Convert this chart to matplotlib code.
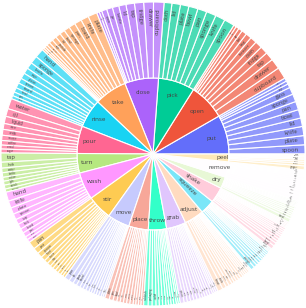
import colorsys

import matplotlib.pyplot as plt
import matplotlib.colors as mcolors
import numpy as np

plt.rcParams["font.family"] = ["Open Sans", "DejaVu Sans"]

# verbs (inner ring) and the objects used with each (outer ring)
verbs = ["put", "open", "pick", "close", "take", "rinse", "pour", "turn", "wash", "stir",
         "move", "place", "throw", "grab", "adjust", "squeeze", "shake", "dry", "remove", "peel"]

put_objs = ["spoon", "plate", "knife", "lid", "bowl", "pan", "sponge", "glass", "cup", "jar", "tray"]
put_vals = [14, 14, 14, 13, 13, 13, 12, 11, 6, 5, 5]
open_objs = ["cupboard", "drawer", "tap", "fridge", "oven", "freezer", "bag", "bin", "jar", "lid", "box"]
open_vals = [18, 16, 13, 12, 11, 10, 9, 8, 6, 5, 4]
pick_objs = ["spoon", "knife", "sponge", "pan", "bowl", "plate", "lid", "cloth"]
pick_vals = [16, 15, 15, 14, 14, 13, 13, 12]
close_objs = ["cupboard", "drawer", "fridge", "tap", "lid", "bottle", "jar", "oven", "bin", "box"]
close_vals = [16, 15, 14, 13, 11, 10, 9, 8, 4, 4]
take_objs = ["plate", "knife", "board", "pan", "sponge", "bowl", "lid", "spatula", "cup", "spoon", "fork", "jar", "oil"]
take_vals = [14, 12, 11, 10, 9, 8, 8, 7, 6, 5, 4, 3, 3]
rinse_objs = ["hand", "sponge", "knife", "cup", "plate", "spoon", "board", "bowl", "pan", "glass"]
rinse_vals = [14, 12, 10, 9, 9, 8, 8, 7, 6, 5]
pour_objs = ["water", "oil", "liquid", "rice", "milk", "sauce", "coffee", "cereal", "sugar"]
pour_vals = [16, 12, 11, 9, 9, 8, 7, 6, 6]
turn_objs = ["tap", "hob", "water", "kettle", "cooker", "light", "switch", "machine"]
turn_vals = [14, 9, 7, 7, 6, 6, 6, 5]
wash_objs = ["hand", "knife", "plate", "spoon", "cup", "fork", "board", "pan", "bowl", "glass"]
wash_vals = [14, 11, 10, 9, 8, 8, 7, 7, 5, 5]
stir_objs = ["pan", "pot", "spoon", "food", "sauce", "mix", "soup", "egg", "rice", "pasta", "oil", "milk"]
stir_vals = [12, 9, 8, 7, 6, 6, 5, 5, 5, 5, 4, 4]
move_objs = ["pan", "lid", "plate", "board", "bowl", "pot", "cup", "knife", "spoon", "tray", "box", "jar", "bag", "glass"]
move_vals = [8, 7, 6, 6, 5, 5, 5, 4, 4, 4, 4, 4, 3, 3]
place_objs = ["plate", "pan", "bowl", "lid", "cup", "knife", "spoon", "board", "pot", "tray", "glass", "jar"]
place_vals = [7, 6, 6, 5, 5, 5, 5, 5, 4, 4, 4, 4]
throw_objs = ["rubbish", "packaging", "paper", "bag", "peel", "shell", "food", "towel", "box", "wrapper", "can", "tissue"]
throw_vals = [7, 6, 6, 5, 5, 5, 4, 4, 4, 4, 3, 3]
grab_objs = ["spoon", "bowl", "knife", "plate", "sponge", "towel", "lid", "cup", "pan", "bag", "jar", "bottle", "fork", "board"]
grab_vals = [6, 5, 5, 5, 5, 5, 4, 4, 4, 4, 4, 3, 3, 3]
adjust_objs = ["heat", "knob", "flame", "hob", "temperature", "position", "oven", "lid", "tap", "setting", "dial",
               "pan", "timer", "volume", "switch"]
adjust_vals = [8, 6, 5, 5, 4, 4, 4, 4, 4, 3, 3, 3, 3, 2, 2]
squeeze_objs = ["sponge", "lemon", "bottle", "soap", "cloth", "tube", "liquid", "lime", "orange", "sauce", "paste",
                "juice", "ketchup"]
squeeze_vals = [6, 5, 4, 4, 4, 3, 3, 3, 3, 3, 2, 2, 2]
shake_objs = ["hand", "bottle", "pan", "salt", "water", "pepper", "jar", "spice", "container", "sieve", "oil", "bag",
              "box", "lid", "cup"]
shake_vals = [6, 5, 4, 4, 4, 3, 3, 3, 3, 3, 2, 2, 2, 2, 2]
dry_objs = ["hand", "plate", "towel", "knife", "bowl", "cup", "spoon", "pan", "board", "glass", "lid", "fork", "tray"]
dry_vals = [6, 4, 3, 3, 3, 3, 3, 2, 2, 2, 2, 2, 1]
remove_objs = ["lid", "peel", "skin", "wrapper", "seed", "cap", "tray", "shell", "film", "bag", "label", "stalk",
               "foil", "core", "stem", "seal"]
remove_vals = [5, 5, 5, 3, 3, 3, 3, 3, 3, 3, 2, 2, 2, 2, 2, 1]
peel_objs = ["ginger", "potato", "onion", "carrot", "garlic", "banana", "orange", "apple"]
peel_vals = [6, 4, 3, 3, 2, 2, 2, 2]

objects = [put_objs, open_objs, pick_objs, close_objs, take_objs, rinse_objs, pour_objs, turn_objs, wash_objs,
           stir_objs, move_objs, place_objs, throw_objs, grab_objs, adjust_objs, squeeze_objs, shake_objs,
           dry_objs, remove_objs, peel_objs]
counts = [put_vals, open_vals, pick_vals, close_vals, take_vals, rinse_vals, pour_vals, turn_vals, wash_vals,
          stir_vals, move_vals, place_vals, throw_vals, grab_vals, adjust_vals, squeeze_vals, shake_vals,
          dry_vals, remove_vals, peel_vals]

# plotly colorway, extended with lightened copies once it runs out
base = ["#636efa", "#EF553B", "#00cc96", "#ab63fa", "#FFA15A",
        "#19d3f3", "#FF6692", "#B6E880", "#FF97FF", "#FECB52"]


def lighten(c, amount=0.2):
    h, l, s = colorsys.rgb_to_hls(*mcolors.to_rgb(c))
    return colorsys.hls_to_rgb(h, min(1.0, l + amount), s)


palette = [mcolors.to_rgb(c) for c in base] + [lighten(c) for c in base]
parent_colors = [palette[i % len(palette)] for i in range(len(verbs))]

radial_parents = ["squeeze", "shake"]
text_color = "#444444"

fig = plt.figure(figsize=(3.06, 3.08), dpi=100)
ax = fig.add_axes([0, 0, 1, 1])

totals = [sum(v) for v in counts]
inner, _ = ax.pie(totals, radius=0.5, startangle=0, counterclock=True, colors=parent_colors,
                  wedgeprops=dict(edgecolor="white", linewidth=0.8))

leaf_vals = [v for vs in counts for v in vs]
leaf_names = [o for os in objects for o in os]
leaf_cols = [(*parent_colors[i], 0.7) for i, vs in enumerate(counts) for _ in vs]
outer, _ = ax.pie(leaf_vals, radius=1.0, startangle=0, counterclock=True, colors=leaf_cols,
                  wedgeprops=dict(width=0.5, edgecolor="white", linewidth=0.8))

# inner labels
for w, name in zip(inner, verbs):
    mid = (w.theta1 + w.theta2) / 2
    width = w.theta2 - w.theta1
    t = np.deg2rad(mid)
    if name in radial_parents:
        r = 0.5 * 0.62
        rot = mid if np.cos(t) >= 0 else mid - 180
    else:
        r = 0.5 * (0.8 + 0.15 * (1 - min(width, 30) / 30))
        rot = 0
    ax.text(r * np.cos(t), r * np.sin(t), name, rotation=rot, ha="center", va="center",
            rotation_mode="anchor", fontsize=4.5, color=text_color)

# outer labels, radial along each leaf
for w, name in zip(outer, leaf_names):
    mid = (w.theta1 + w.theta2) / 2
    width = w.theta2 - w.theta1
    t = np.deg2rad(mid)
    fs = max(1.2, min(4.2, width * 1.25))
    r = 0.96
    if np.cos(t) >= 0:
        rot, ha = mid, "right"
    else:
        rot, ha = mid - 180, "left"
    ax.text(r * np.cos(t), r * np.sin(t), name, rotation=rot, ha=ha, va="center",
            rotation_mode="anchor", fontsize=fs, color=text_color)

ax.set_xlim(-153 / 152, 153 / 152)
ax.set_ylim(-154 / 152, 154 / 152)
ax.set_aspect("equal")
ax.axis("off")

fig.savefig("out.png", dpi=100)
